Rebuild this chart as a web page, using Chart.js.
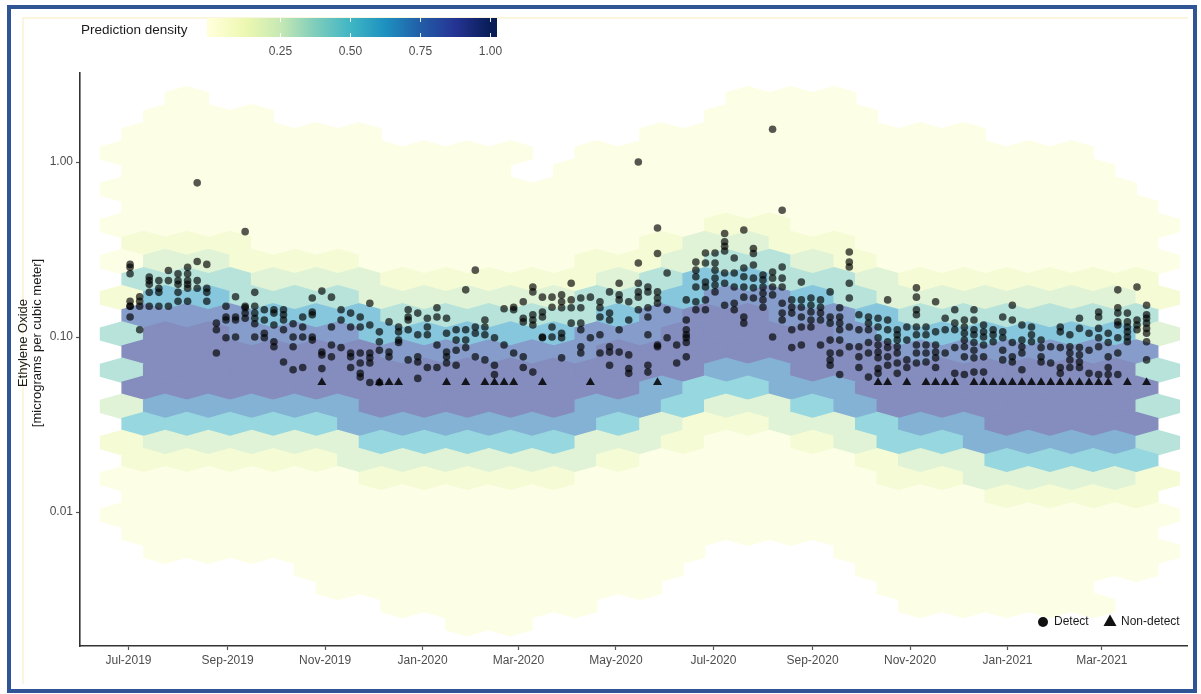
<!DOCTYPE html>
<html>
<head>
<meta charset="utf-8">
<title>Ethylene Oxide – predicted vs measured</title>
<script src="https://cdn.jsdelivr.net/npm/chart.js@4.4.1/dist/chart.umd.min.js"></script>
<style>
  html, body { margin: 0; padding: 0; background: #fff; }
  #wrap { width: 1201px; height: 694px; position: relative; }
</style>
</head>
<body>
<div id="wrap"><canvas id="eoChart" width="1201" height="694"></canvas></div>
<script>
// ---------------------------------------------------------------
// Data
// ---------------------------------------------------------------

// 1-in-6 day sampling schedule
const sampleDates = [
  '2019-07-02','2019-07-08','2019-07-14','2019-07-20','2019-07-26',
  '2019-08-01','2019-08-07','2019-08-13','2019-08-19','2019-08-25','2019-08-31',
  '2019-09-06','2019-09-12','2019-09-18','2019-09-24','2019-09-30',
  '2019-10-06','2019-10-12','2019-10-18','2019-10-24','2019-10-30',
  '2019-11-05','2019-11-11','2019-11-17','2019-11-23','2019-11-29',
  '2019-12-05','2019-12-11','2019-12-17','2019-12-23','2019-12-29',
  '2020-01-04','2020-01-10','2020-01-16','2020-01-22','2020-01-28',
  '2020-02-03','2020-02-09','2020-02-15','2020-02-21','2020-02-27',
  '2020-03-04','2020-03-10','2020-03-16','2020-03-22','2020-03-28',
  '2020-04-03','2020-04-09','2020-04-15','2020-04-21','2020-04-27',
  '2020-05-03','2020-05-09','2020-05-15','2020-05-21','2020-05-27',
  '2020-06-02','2020-06-08','2020-06-14','2020-06-20','2020-06-26',
  '2020-07-02','2020-07-08','2020-07-14','2020-07-20','2020-07-26',
  '2020-08-01','2020-08-07','2020-08-13','2020-08-19','2020-08-25','2020-08-31',
  '2020-09-06','2020-09-12','2020-09-18','2020-09-24','2020-09-30',
  '2020-10-06','2020-10-12','2020-10-18','2020-10-24','2020-10-30',
  '2020-11-05','2020-11-11','2020-11-17','2020-11-23','2020-11-29',
  '2020-12-05','2020-12-11','2020-12-17','2020-12-23','2020-12-29',
  '2021-01-04','2021-01-10','2021-01-16','2021-01-22','2021-01-28',
  '2021-02-03','2021-02-09','2021-02-15','2021-02-21','2021-02-27',
  '2021-03-05','2021-03-11','2021-03-17','2021-03-23','2021-03-29'
];

// detected concentrations per sample day (ug/m3), all sites
const detectValues = [
  // Jul 2019
  [0.26, 0.25, 0.23, 0.16, 0.15, 0.15, 0.13], [0.17, 0.16, 0.15, 0.11], [0.22, 0.21, 0.20, 0.18, 0.15],
  [0.21, 0.19, 0.18, 0.15], [0.24, 0.21, 0.15],
  // Aug 2019
  [0.23, 0.21, 0.20, 0.18, 0.16], [0.25, 0.23, 0.21, 0.20, 0.19, 0.16], [0.76, 0.27, 0.21, 0.19],
  [0.26, 0.19, 0.18, 0.16], [0.12, 0.11, 0.081], [0.15, 0.13, 0.125, 0.099],
  // Sep 2019
  [0.17, 0.13, 0.125, 0.10], [0.40, 0.15, 0.147, 0.137, 0.128], [0.18, 0.15, 0.137, 0.128, 0.119, 0.10],
  [0.143, 0.125, 0.105, 0.099], [0.143, 0.137, 0.117, 0.094, 0.088],
  // Oct 2019
  [0.143, 0.134, 0.125, 0.11, 0.072], [0.119, 0.10, 0.088, 0.065], [0.13, 0.114, 0.10, 0.067],
  [0.167, 0.139, 0.134, 0.10, 0.096], [0.183, 0.082, 0.079, 0.066],
  // Nov 2019
  [0.169, 0.114, 0.09, 0.077], [0.143, 0.125, 0.087], [0.137, 0.114, 0.081, 0.077, 0.067],
  [0.13, 0.114, 0.081, 0.071, 0.062, 0.059], [0.156, 0.117, 0.081, 0.076, 0.071, 0.055],
  // Dec 2019
  [0.107, 0.094, 0.084, 0.055], [0.122, 0.082, 0.077], [0.114, 0.107, 0.096, 0.093],
  [0.143, 0.13, 0.125, 0.11, 0.074], [0.137, 0.103, 0.077, 0.072, 0.058],
  // Jan 2020
  [0.128, 0.114, 0.103, 0.067], [0.147, 0.13, 0.09, 0.067], [0.128, 0.105, 0.082, 0.077, 0.071],
  [0.11, 0.096, 0.084, 0.069], [0.186, 0.11, 0.096, 0.087],
  // Feb 2020
  [0.241, 0.114, 0.105, 0.077], [0.125, 0.114, 0.103, 0.074], [0.099, 0.069, 0.061],
  [0.145, 0.09], [0.148, 0.143, 0.081],
  // Mar 2020
  [0.159, 0.128, 0.122, 0.077, 0.067], [0.193, 0.181, 0.134, 0.125, 0.117, 0.063], [0.169, 0.139, 0.13, 0.10, 0.099],
  [0.169, 0.148, 0.114, 0.10], [0.174, 0.159, 0.147, 0.105, 0.099, 0.076],
  // Apr 2020
  [0.203, 0.163, 0.147, 0.12], [0.167, 0.147, 0.12, 0.11, 0.088, 0.081], [0.169, 0.099],
  [0.159, 0.147, 0.13, 0.103, 0.081], [0.181, 0.137, 0.125, 0.088, 0.082, 0.069],
  // May 2020
  [0.203, 0.174, 0.163, 0.11, 0.082], [0.159, 0.125, 0.079, 0.066, 0.062], [1.0, 0.265, 0.203, 0.181, 0.169, 0.143],
  [0.193, 0.181, 0.147, 0.13, 0.103, 0.069, 0.063], [0.42, 0.30, 0.181, 0.167, 0.156, 0.09, 0.088],
  // Jun 2020
  [0.232, 0.143, 0.099], [0.09, 0.071], [0.163, 0.125, 0.11, 0.103, 0.099, 0.093, 0.077],
  [0.268, 0.241, 0.221, 0.193, 0.159, 0.143], [0.302, 0.265, 0.206, 0.193, 0.163, 0.143],
  // Jul 2020
  [0.302, 0.265, 0.241, 0.217, 0.198, 0.181], [0.39, 0.35, 0.33, 0.31, 0.232, 0.203, 0.152],
  [0.283, 0.232, 0.193, 0.156, 0.143], [0.409, 0.248, 0.221, 0.193, 0.169, 0.13, 0.12],
  [0.32, 0.30, 0.258, 0.217, 0.191, 0.167],
  // Aug 2020
  [0.226, 0.212, 0.193, 0.178, 0.163, 0.148], [1.54, 0.235, 0.217, 0.193, 0.174, 0.10],
  [0.53, 0.251, 0.217, 0.193, 0.156, 0.137, 0.125], [0.163, 0.148, 0.137, 0.11, 0.087],
  [0.206, 0.163, 0.148, 0.13, 0.114, 0.09], [0.167, 0.152, 0.139, 0.125, 0.114],
  // Sep 2020
  [0.163, 0.148, 0.137, 0.125, 0.09], [0.181, 0.13, 0.12, 0.096, 0.081, 0.074, 0.069],
  [0.147, 0.13, 0.12, 0.11, 0.096, 0.081, 0.061], [0.306, 0.268, 0.251, 0.203, 0.167, 0.114, 0.088],
  [0.134, 0.11, 0.088, 0.077, 0.067],
  // Oct 2020
  [0.13, 0.12, 0.11, 0.093, 0.081, 0.059], [0.128, 0.114, 0.099, 0.09, 0.082, 0.076, 0.066, 0.062],
  [0.163, 0.125, 0.11, 0.094, 0.087, 0.077, 0.069], [0.11, 0.103, 0.096, 0.088, 0.081, 0.071, 0.062],
  [0.114, 0.096, 0.074, 0.067],
  // Nov 2020
  [0.191, 0.169, 0.143, 0.134, 0.114, 0.103, 0.09, 0.081, 0.071], [0.114, 0.103, 0.09, 0.081, 0.072],
  [0.159, 0.107, 0.09, 0.082, 0.076, 0.067], [0.128, 0.11, 0.081], [0.143, 0.12, 0.11, 0.087, 0.062],
  // Dec 2020
  [0.125, 0.114, 0.105, 0.096, 0.088, 0.077, 0.061], [0.143, 0.125, 0.11, 0.103, 0.093, 0.084, 0.076, 0.063],
  [0.117, 0.107, 0.10, 0.09, 0.077, 0.063], [0.11, 0.103, 0.094], [0.13, 0.107, 0.099, 0.084, 0.074],
  // Jan 2021
  [0.152, 0.125, 0.093, 0.077, 0.072], [0.117, 0.096, 0.088, 0.081, 0.065], [0.114, 0.103, 0.094],
  [0.096, 0.087, 0.077, 0.072], [0.088, 0.071],
  // Feb 2021
  [0.114, 0.107, 0.087, 0.067, 0.062], [0.103, 0.088, 0.081, 0.074, 0.067],
  [0.128, 0.112, 0.087, 0.079, 0.072, 0.067], [0.105, 0.084, 0.062], [0.139, 0.13, 0.112, 0.099, 0.088, 0.061],
  // Mar 2021
  [0.105, 0.093, 0.077, 0.067, 0.061], [0.186, 0.147, 0.137, 0.122, 0.117, 0.099, 0.081, 0.061],
  [0.137, 0.122, 0.114, 0.107, 0.10, 0.094], [0.193, 0.125, 0.117, 0.11],
  [0.152, 0.134, 0.128, 0.12, 0.112, 0.105, 0.094, 0.074]
];

// sample days with at least one non-detect, plotted at the detection limit
const nonDetectDates = [
  '2019-10-30','2019-12-05','2019-12-11','2019-12-17','2020-01-16','2020-01-28',
  '2020-02-09','2020-02-15','2020-02-21','2020-02-27','2020-03-16','2020-04-15','2020-05-27',
  '2020-10-12','2020-10-18','2020-10-30','2020-11-11','2020-11-17','2020-11-23','2020-11-29',
  '2020-12-11','2020-12-17','2020-12-23','2020-12-29','2021-01-04','2021-01-10','2021-01-16',
  '2021-01-22','2021-01-28','2021-02-03','2021-02-09','2021-02-15','2021-02-21','2021-02-27',
  '2021-03-05','2021-03-17','2021-03-29'
];
const nonDetectLevel = 0.055;

// hexbin grid of the model predictions: columns 27 days wide, rows 0.1034 decades tall
// even rows are shifted half a column to the right
const hexOriginDate = '2019-06-27';
const hexWidthDays = 27;
const hexTopLog = 0.3617;
const hexRowStep = 0.10343;
// density class per hex (0 = no hex), see densityLevels
const hexDensity = [
  '0100000000000011100000000',
  '0111000000000011110000000',
  '1111110000001111111100000',
  '1111111111011111111111100',
  '1111111110111111111111100',
  '1111111111111111111111110',
  '1111111111111111111111110',
  '1111111111111122111111111',
  '2221111111112332211111110',
  '1332221111122344321111111',
  '4443332222234664432222220',
  '2664443333344688643333332',
  '8886664444468998864444440',
  '4998886666688999986666663',
  '9999998888899999998888880',
  '4999999999999977999999994',
  '9999999999997557799999990',
  '3777779999977533579999994',
  '5555577777753223357799990',
  '2333335555533211235577774',
  '2222233333321111123355550',
  '1111112222211111112233332',
  '1111111111111111111122220',
  '1111111111111111111111111',
  '1111111111111111111111110',
  '0111111111111100011111111',
  '0000111111111000011111110',
  '0000011111111000001111100',
  '0000001111100000001111100',
  '0000000011000000000000000'
];
// prediction density for each class digit
const densityLevels = [0, 0.025, 0.12, 0.25, 0.38, 0.5, 0.6, 0.7, 0.8, 0.9];

const tickDates = ['2019-07-01','2019-09-01','2019-11-01','2020-01-01','2020-03-01','2020-05-01',
                   '2020-07-01','2020-09-01','2020-11-01','2021-01-01','2021-03-01'];
const tickLabels = ['Jul-2019','Sep-2019','Nov-2019','Jan-2020','Mar-2020','May-2020',
                    'Jul-2020','Sep-2020','Nov-2020','Jan-2021','Mar-2021'];
const yTicks = [0.01, 0.1, 1];
const densityTicks = [0.25, 0.5, 0.75, 1.0];

// ---------------------------------------------------------------
// Styling helpers
// ---------------------------------------------------------------
const FONT = '"Liberation Sans", Arial, Helvetica, sans-serif';
const YLGNBU = ['#ffffd9', '#edf8b1', '#c7e9b4', '#7fcdbb', '#41b6c4', '#1d91c0', '#225ea8', '#253494', '#081d58'];
const HEX_ALPHA = 0.55;

function toRgb(h) {
  return [1, 3, 5].map(i => parseInt(h.slice(i, i + 2), 16));
}
function ramp(t) {
  t = Math.min(1, Math.max(0, t)) * (YLGNBU.length - 1);
  const i = Math.min(Math.floor(t), YLGNBU.length - 2);
  const f = t - i;
  const a = toRgb(YLGNBU[i]), b = toRgb(YLGNBU[i + 1]);
  return a.map((v, k) => v + (b[k] - v) * f);
}
// semi-transparent fill pre-blended onto the white panel
function hexFill(t) {
  const c = ramp(t).map(v => Math.round(v * HEX_ALPHA + 255 * (1 - HEX_ALPHA)));
  return `rgb(${c.join(',')})`;
}

// ---------------------------------------------------------------
// Points
// ---------------------------------------------------------------
const detectPoints = [];
sampleDates.forEach((d, i) => {
  detectValues[i].forEach(v => detectPoints.push({ x: Date.parse(d), y: v }));
});
const nonDetectPoints = nonDetectDates.map(d => ({ x: Date.parse(d), y: nonDetectLevel }));

// ---------------------------------------------------------------
// Plugins
// ---------------------------------------------------------------
const pageFrame = {
  id: 'pageFrame',
  beforeDraw(chart) {
    const { ctx, width, height } = chart;
    ctx.save();
    ctx.fillStyle = '#fff';
    ctx.fillRect(0, 0, width, height);
    ctx.restore();
  },
  afterDraw(chart) {
    const { ctx } = chart;
    ctx.save();
    // faint inner panel edge
    ctx.strokeStyle = '#f8f3d2';
    ctx.lineWidth = 1.5;
    ctx.beginPath();
    ctx.moveTo(23, 684); ctx.lineTo(23, 18); ctx.lineTo(1188, 18);
    ctx.stroke();
    // outer blue frame
    ctx.strokeStyle = '#2f5597';
    ctx.lineWidth = 4;
    ctx.strokeRect(9, 7, 1186, 684);
    ctx.restore();
  }
};

const hexLayer = {
  id: 'hexLayer',
  beforeDatasetsDraw(chart) {
    const { ctx, chartArea: a, scales: { x, y } } = chart;
    const DAY = 86400000;
    const x0 = Date.parse(hexOriginDate);
    const w = hexWidthDays * DAY;
    const r = hexRowStep / 1.5;
    ctx.save();
    ctx.beginPath();
    ctx.rect(a.left, a.top, a.right - a.left, a.bottom - a.top);
    ctx.clip();
    hexDensity.forEach((row, i) => {
      const cy = hexTopLog - i * hexRowStep;
      const shift = i % 2 === 0 ? w / 2 : 0;
      for (let c = 0; c < row.length; c++) {
        const level = +row[c];
        if (!level) continue;
        const cx = x0 + shift + c * w;
        const corners = [
          [cx, cy + r], [cx + w / 2, cy + r / 2], [cx + w / 2, cy - r / 2],
          [cx, cy - r], [cx - w / 2, cy - r / 2], [cx - w / 2, cy + r / 2]
        ];
        ctx.beginPath();
        corners.forEach(([vx, vy], k) => {
          const px = x.getPixelForValue(vx);
          const py = y.getPixelForValue(Math.pow(10, vy));
          if (k) ctx.lineTo(px, py); else ctx.moveTo(px, py);
        });
        ctx.closePath();
        const col = hexFill(densityLevels[level]);
        ctx.fillStyle = col;
        ctx.strokeStyle = col;
        ctx.lineWidth = 1.4;
        ctx.fill();
        ctx.stroke();
      }
    });
    ctx.restore();
  }
};

const annotations = {
  id: 'annotations',
  afterDraw(chart) {
    const { ctx } = chart;
    ctx.save();

    // y axis title
    ctx.save();
    ctx.translate(30, 343);
    ctx.rotate(-Math.PI / 2);
    ctx.fillStyle = '#1a1a1a';
    ctx.font = `13px ${FONT}`;
    ctx.textAlign = 'center';
    ctx.textBaseline = 'middle';
    ctx.fillText('Ethylene Oxide', 0, -7);
    ctx.fillText('[micrograms per cubic meter]', 0, 7);
    ctx.restore();

    // density colour bar
    const barL = 207, barR = 497, barT = 18, barB = 37;
    const zeroX = 210, oneX = 490;
    ctx.fillStyle = '#1a1a1a';
    ctx.font = `13.5px ${FONT}`;
    ctx.textAlign = 'left';
    ctx.textBaseline = 'middle';
    ctx.fillText('Prediction density', 81, 30);
    const grad = ctx.createLinearGradient(zeroX, 0, oneX, 0);
    YLGNBU.forEach((c, i) => grad.addColorStop(i / (YLGNBU.length - 1), c));
    ctx.fillStyle = grad;
    ctx.fillRect(barL, barT, barR - barL, barB - barT);
    ctx.strokeStyle = 'rgba(255,255,255,0.9)';
    ctx.lineWidth = 1;
    ctx.font = `12px ${FONT}`;
    ctx.textAlign = 'center';
    densityTicks.forEach(v => {
      const tx = Math.round(zeroX + (oneX - zeroX) * v) + 0.5;
      ctx.beginPath();
      ctx.moveTo(tx, barT); ctx.lineTo(tx, barT + 4);
      ctx.moveTo(tx, barB - 4); ctx.lineTo(tx, barB);
      ctx.stroke();
      ctx.fillStyle = '#4d4d4d';
      ctx.fillText(v.toFixed(2), tx, 52);
    });

    // shape legend
    ctx.fillStyle = '#111';
    ctx.beginPath();
    ctx.arc(1043, 622, 5, 0, Math.PI * 2);
    ctx.fill();
    ctx.beginPath();
    ctx.moveTo(1110, 614.5); ctx.lineTo(1116.5, 626); ctx.lineTo(1103.5, 626);
    ctx.closePath();
    ctx.fill();
    ctx.fillStyle = '#1a1a1a';
    ctx.font = `12px ${FONT}`;
    ctx.textAlign = 'left';
    ctx.textBaseline = 'middle';
    ctx.fillText('Detect', 1054, 622);
    ctx.fillText('Non-detect', 1121, 622);

    ctx.restore();
  }
};

// ---------------------------------------------------------------
// Chart
// ---------------------------------------------------------------
Chart.defaults.font.family = FONT;

const axisBorder = { display: true, color: '#333', width: 1.6 };
const tickMarks = { display: true, drawOnChartArea: false, drawTicks: true, tickLength: 4, color: '#555', tickWidth: 1.2 };

new Chart(document.getElementById('eoChart'), {
  type: 'scatter',
  data: {
    datasets: [
      {
        label: 'Detect',
        data: detectPoints,
        pointStyle: 'circle',
        pointRadius: 3.8,
        pointHoverRadius: 3.8,
        backgroundColor: 'rgba(0,0,0,0.66)',
        borderWidth: 0
      },
      {
        label: 'Non-detect',
        data: nonDetectPoints,
        pointStyle: 'triangle',
        pointRadius: 5.2,
        pointHoverRadius: 5.2,
        backgroundColor: 'rgba(0,0,0,0.85)',
        borderWidth: 0
      }
    ]
  },
  options: {
    responsive: false,
    animation: false,
    devicePixelRatio: 1,
    layout: { padding: { top: 73, right: 14, bottom: 0, left: 0 } },
    plugins: {
      legend: { display: false },
      tooltip: { enabled: false }
    },
    scales: {
      x: {
        type: 'linear',
        min: Date.parse('2019-05-31T16:00:00Z'),
        max: Date.parse('2021-04-23T07:00:00Z'),
        afterBuildTicks: s => { s.ticks = tickDates.map(d => ({ value: Date.parse(d) })); },
        afterFit: s => { s.height = 48; },
        border: axisBorder,
        grid: tickMarks,
        ticks: {
          autoSkip: false,
          maxRotation: 0,
          padding: 3,
          color: '#4d4d4d',
          font: { size: 12 },
          callback: (v, i) => tickLabels[i]
        }
      },
      y: {
        type: 'logarithmic',
        min: 0.001715,
        max: 3.226,
        afterBuildTicks: s => { s.ticks = yTicks.map(v => ({ value: v })); },
        afterFit: s => { s.width = 80; },
        border: axisBorder,
        grid: tickMarks,
        ticks: {
          autoSkip: false,
          padding: 3,
          color: '#4d4d4d',
          font: { size: 12 },
          callback: v => Number(v).toFixed(2)
        }
      }
    }
  },
  plugins: [pageFrame, hexLayer, annotations]
});
</script>
</body>
</html>
